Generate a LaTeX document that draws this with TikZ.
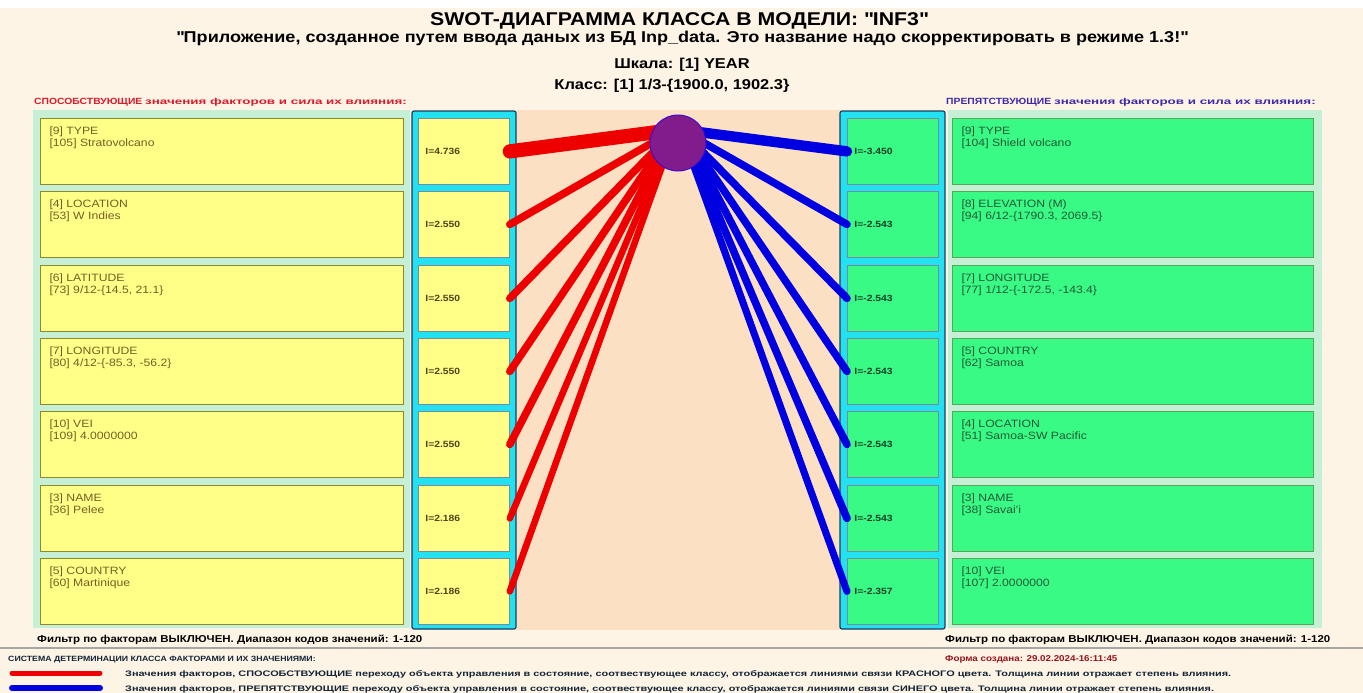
\documentclass[tikz,border=0pt]{standalone}
\usepackage{graphicx}
\usepackage{fontspec}
\setmainfont{Liberation Sans}[FakeStretch=1.15]
\usetikzlibrary{calc}

\definecolor{cream}{RGB}{253,244,230}
\definecolor{peach}{RGB}{252,224,196}
\definecolor{mint}{RGB}{198,240,214}
\definecolor{pyellow}{RGB}{255,255,136}
\definecolor{pgreen}{RGB}{56,250,132}
\definecolor{cyanbar}{RGB}{34,226,242}
\definecolor{navy}{RGB}{30,60,90}
\definecolor{olivetxt}{RGB}{115,95,35}
\definecolor{greentxt}{RGB}{35,90,55}
\definecolor{plusred}{RGB}{238,0,0}
\definecolor{minusblue}{RGB}{0,0,225}
\definecolor{clsfill}{RGB}{130,28,140}
\definecolor{headred}{RGB}{220,25,40}
\definecolor{headblue}{RGB}{60,40,170}

\begin{document}
\begin{tikzpicture}[x=1pt,y=-1pt,
    plusbox/.style={draw=olive!70!gray,fill=pyellow,line width=1pt,anchor=north west,minimum width=363pt,minimum height=66pt,inner sep=0pt},
    minusbox/.style={draw=green!30!gray,fill=pgreen,line width=1pt,anchor=north west,minimum width=361pt,minimum height=66pt,inner sep=0pt},
    plustxt/.style={anchor=north west,align=left,xshift=6pt,yshift=-5pt,text=olivetxt,font=\fontsize{10.6}{12}\selectfont},
    minustxt/.style={plustxt,text=greentxt},
    plusval/.style={draw=navy!60,fill=pyellow,line width=0.8pt,anchor=north west,minimum height=66pt,text width=77pt,inner xsep=7pt,align=left,text=olivetxt!70!black,font=\bfseries\fontsize{9}{10}\selectfont},
    minusval/.style={plusval,fill=pgreen,text=greentxt!70!black},
    plus/.style={plusred,line cap=round},
    minus/.style={minusblue,line cap=round},
    legend/.style={anchor=base west,inner sep=0pt,text=navy!60!black,font=\bfseries\fontsize{8}{9}\selectfont}]
\useasboundingbox (0,0) rectangle (1363,693);
\fill[white] (0,0) rectangle (1363,693);
\fill[cream] (0,8) rectangle (1363,693);
% panels
\fill[mint] (33,110) rectangle (410,628);
\fill[mint] (948,110) rectangle (1322,628);
\fill[peach] (516,110) rectangle (840,630);
\draw[navy,fill=cyanbar,line width=1.2pt,rounded corners=2pt] (412,111) rectangle (516,629);
\draw[navy,fill=cyanbar,line width=1.2pt,rounded corners=2pt] (840,111) rectangle (945,629);

% headers
\node[anchor=base,inner sep=0pt,font=\bfseries\fontsize{18.5}{20}\selectfont] (title) at (679,26) {SWOT-ДИАГРАММА КЛАССА В МОДЕЛИ: \textquotedbl INF3\textquotedbl};
\node[anchor=base,inner sep=0pt,font=\bfseries\fontsize{15.7}{18}\selectfont] (app) at (682,43) {\textquotedbl Приложение, созданное путем ввода даных из БД Inp\_data. Это название надо скорректировать в режиме 1.3!\textquotedbl};
\node[anchor=base,inner sep=0pt,font=\bfseries\fontsize{14.3}{16}\selectfont] (scale) at (682,69) {Шкала: [1] YEAR};
\node[anchor=base,inner sep=0pt,font=\bfseries\fontsize{14.3}{16}\selectfont] (class) at (672,89) {Класс: [1] 1/3-\{1900.0, 1902.3\}};
\node[anchor=base west,inner sep=0pt,text=headred,font=\bfseries\fontsize{9}{10}\selectfont] (plushead) at (34,104) {СПОСОБСТВУЮЩИЕ \scalebox{1.37}[1]{\fontsize{8.5}{9}\selectfont значения факторов и сила их влияния:}};
\node[anchor=base west,inner sep=0pt,text=headblue,font=\bfseries\fontsize{9}{10}\selectfont] (minushead) at (946,104) {ПРЕПЯТСТВУЮЩИЕ \scalebox{1.37}[1]{\fontsize{8.5}{9}\selectfont значения факторов и сила их влияния:}};

% left factors
\node[plusbox,label={[plustxt]north west:{[9] TYPE\\{}[105] Stratovolcano}}] (lb1) at (40,118) {};
\node[plusbox,label={[plustxt]north west:{[4] LOCATION\\{}[53] W Indies}}] (lb2) at (40,191) {};
\node[plusbox,label={[plustxt]north west:{[6] LATITUDE\\{}[73] 9/12-\{14.5, 21.1\}}}] (lb3) at (40,265) {};
\node[plusbox,label={[plustxt]north west:{[7] LONGITUDE\\{}[80] 4/12-\{-85.3, -56.2\}}}] (lb4) at (40,338) {};
\node[plusbox,label={[plustxt]north west:{[10] VEI\\{}[109] 4.0000000}}] (lb5) at (40,411) {};
\node[plusbox,label={[plustxt]north west:{[3] NAME\\{}[36] Pelee}}] (lb6) at (40,485) {};
\node[plusbox,label={[plustxt]north west:{[5] COUNTRY\\{}[60] Martinique}}] (lb7) at (40,558) {};
\node[plusval] (lv1) at (418,118) {I=4.736};
\node[plusval] (lv2) at (418,191) {I=2.550};
\node[plusval] (lv3) at (418,265) {I=2.550};
\node[plusval] (lv4) at (418,338) {I=2.550};
\node[plusval] (lv5) at (418,411) {I=2.550};
\node[plusval] (lv6) at (418,485) {I=2.186};
\node[plusval] (lv7) at (418,558) {I=2.186};

% right factors
\node[minusbox,label={[minustxt]north west:{[9] TYPE\\{}[104] Shield volcano}}] (rb1) at (952,118) {};
\node[minusbox,label={[minustxt]north west:{[8] ELEVATION (M)\\{}[94] 6/12-\{1790.3, 2069.5\}}}] (rb2) at (952,191) {};
\node[minusbox,label={[minustxt]north west:{[7] LONGITUDE\\{}[77] 1/12-\{-172.5, -143.4\}}}] (rb3) at (952,265) {};
\node[minusbox,label={[minustxt]north west:{[5] COUNTRY\\{}[62] Samoa}}] (rb4) at (952,338) {};
\node[minusbox,label={[minustxt]north west:{[4] LOCATION\\{}[51] Samoa-SW Pacific}}] (rb5) at (952,411) {};
\node[minusbox,label={[minustxt]north west:{[3] NAME\\{}[38] Savai'i}}] (rb6) at (952,485) {};
\node[minusbox,label={[minustxt]north west:{[10] VEI\\{}[107] 2.0000000}}] (rb7) at (952,558) {};
\node[minusval] (rv1) at (847,118) {I=-3.450};
\node[minusval] (rv2) at (847,191) {I=-2.543};
\node[minusval] (rv3) at (847,265) {I=-2.543};
\node[minusval] (rv4) at (847,338) {I=-2.543};
\node[minusval] (rv5) at (847,411) {I=-2.543};
\node[minusval] (rv6) at (847,485) {I=-2.543};
\node[minusval] (rv7) at (847,558) {I=-2.357};

% links
\coordinate (c) at (678,143);
\draw[plus,line width=14.2pt] (lv1.east) -- ($(c)+(207:24)$);
\draw[plus,line width=7.6pt] (lv2.east) -- ($(c)+(183:24)$);
\draw[plus,line width=7.6pt] (lv3.east) -- ($(c)+(163:24)$);
\draw[plus,line width=7.6pt] (lv4.east) -- ($(c)+(152:24)$);
\draw[plus,line width=7.6pt] (lv5.east) -- ($(c)+(143:24)$);
\draw[plus,line width=6.6pt] (lv6.east) -- ($(c)+(135:24)$);
\draw[plus,line width=6.6pt] (lv7.east) -- ($(c)+(127:24)$);
\draw[minus,line width=10.4pt] (rv1.west) -- ($(c)+(-27:24)$);
\draw[minus,line width=7.6pt] (rv2.west) -- ($(c)+(-3:24)$);
\draw[minus,line width=7.6pt] (rv3.west) -- ($(c)+(17:24)$);
\draw[minus,line width=7.6pt] (rv4.west) -- ($(c)+(28:24)$);
\draw[minus,line width=7.6pt] (rv5.west) -- ($(c)+(37:24)$);
\draw[minus,line width=7.6pt] (rv6.west) -- ($(c)+(45:24)$);
\draw[minus,line width=7.1pt] (rv7.west) -- ($(c)+(53:24)$);
\node[circle,fill=clsfill,draw=blue!55!clsfill,line width=1pt,minimum size=56pt] (cls) at (c) {};

% footer
\node[anchor=base west,inner sep=0pt,font=\bfseries\fontsize{10}{12}\selectfont] (filtl) at (37,642) {Фильтр по факторам ВЫКЛЮЧЕН. Диапазон кодов значений: 1-120};
\node[anchor=base west,inner sep=0pt,font=\bfseries\fontsize{10}{12}\selectfont] (filtr) at (945,642) {Фильтр по факторам ВЫКЛЮЧЕН. Диапазон кодов значений: 1-120};
\draw[gray!70,line width=1.5pt] (0,648) -- (1363,648);
\node[legend,font=\bfseries\fontsize{7.6}{9}\selectfont] (sys) at (8,661) {СИСТЕМА ДЕТЕРМИНАЦИИ КЛАССА ФАКТОРАМИ И ИХ ЗНАЧЕНИЯМИ:};
\node[legend,text=headred!70!black,font=\bfseries\fontsize{8.5}{9}\selectfont] (date) at (945,661) {Форма создана: 29.02.2024-16:11:45};
\coordinate (pa) at (12,673);
\coordinate (pb) at (100,673);
\coordinate (ma) at (12,688);
\coordinate (mb) at (100,688);
\draw[plus,line width=5pt] (pa) -- (pb);
\draw[minus,line width=6pt] (ma) -- (mb);
\node[legend] (plusleg) at (125,676) {\scalebox{1.185}[1]{Значения факторов, СПОСОБСТВУЮЩИЕ переходу объекта управления в состояние, соотвествующее классу, отображается линиями связи КРАСНОГО цвета. Толщина линии отражает степень влияния.}};
\node[legend] (minusleg) at (125,691) {\scalebox{1.185}[1]{Значения факторов, ПРЕПЯТСТВУЮЩИЕ переходу объекта управления в состояние, соотвествующее классу, отображается линиями связи СИНЕГО цвета. Толщина линии отражает степень влияния.}};
\end{tikzpicture}
\end{document}
